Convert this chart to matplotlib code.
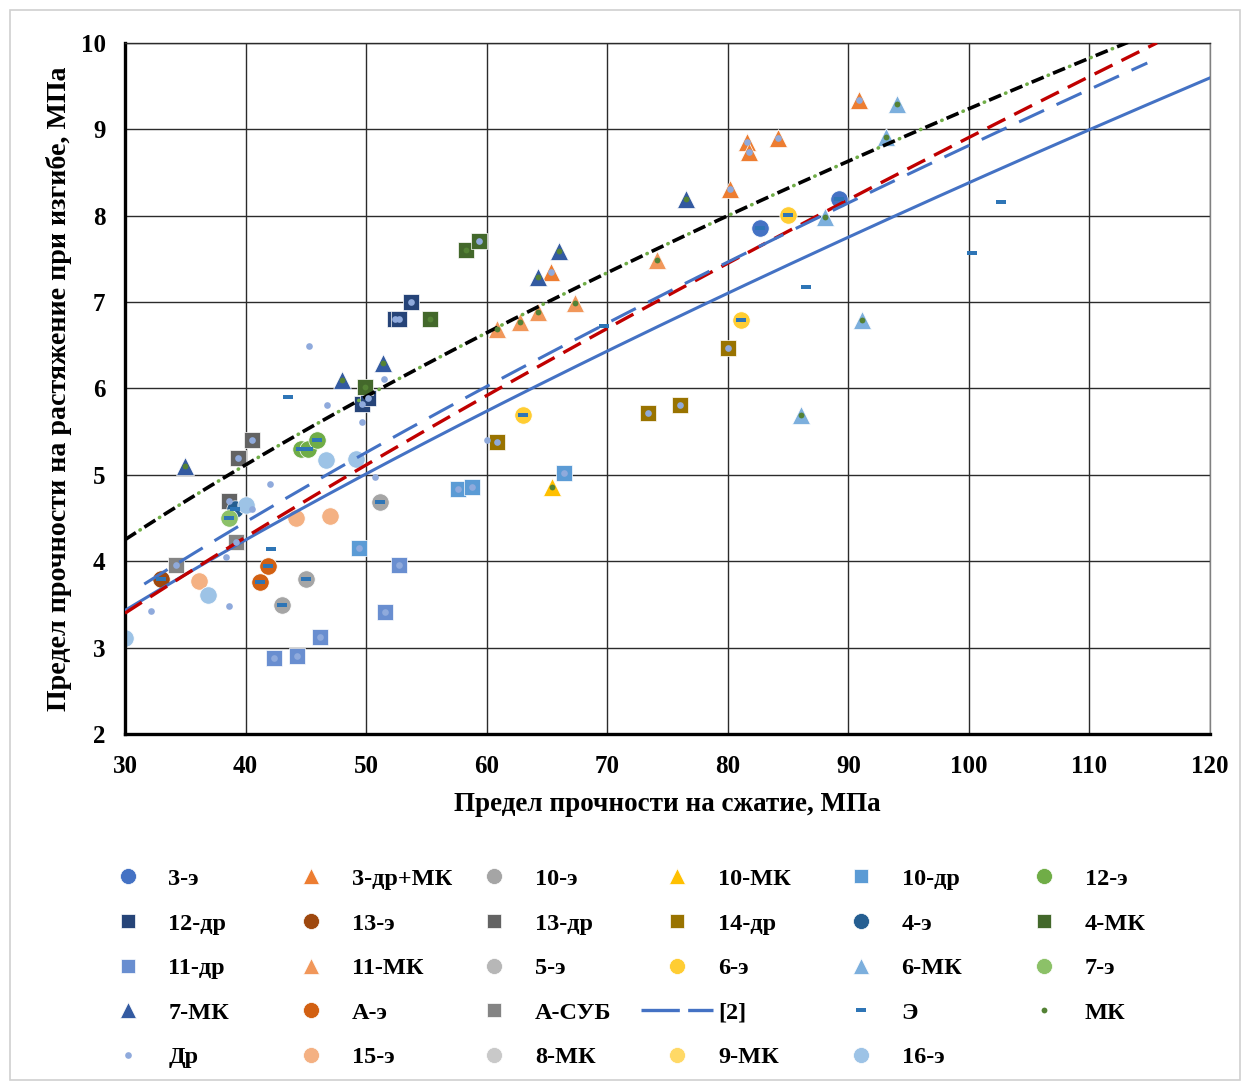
import numpy as np
import matplotlib.pyplot as plt
from matplotlib.lines import Line2D
from matplotlib.patches import Rectangle

plt.rcParams['font.family'] = ['Liberation Serif', 'DejaVu Serif']
plt.rcParams['font.weight'] = 'bold'

# series (x - compressive strength, y - flexural tensile strength)
s3e_x = [82.7, 89.2]
s3e_y = [7.86, 8.19]
s3drmk_x = [65.3, 80.2, 81.6, 81.8, 84.2, 90.9]
s3drmk_y = [7.35, 8.31, 8.85, 8.74, 8.90, 9.34]
s10e_x = [43.0, 45.0, 51.15]
s10e_y = [3.49, 3.79, 4.69]
s10mk_x = [65.4]
s10mk_y = [4.86]
s10dr_x = [49.4, 57.6, 58.8, 66.4]
s10dr_y = [4.15, 4.84, 4.86, 5.02]
s12e_x = [44.6, 45.2, 45.9]
s12e_y = [5.30, 5.30, 5.40]
s12dr_x = [49.7, 50.2, 52.4, 52.7, 53.7]
s12dr_y = [5.82, 5.89, 6.80, 6.80, 7.00]
s13e_x = [33.0]
s13e_y = [3.79]
s13dr_x = [38.6, 39.4, 40.5]
s13dr_y = [4.70, 5.20, 5.40]
s14dr_x = [60.9, 73.4, 76.0, 80.0]
s14dr_y = [5.38, 5.72, 5.81, 6.47]
s4e_x = [39.1]
s4e_y = [4.60]
s4mk_x = [49.9, 55.3, 58.3, 59.4]
s4mk_y = [6.02, 6.80, 7.60, 7.71]
s11dr_x = [42.4, 44.3, 46.2, 51.6, 52.7]
s11dr_y = [2.88, 2.90, 3.12, 3.41, 3.96]
s11mk_x = [60.85, 62.8, 64.3, 67.3, 74.1]
s11mk_y = [6.69, 6.77, 6.89, 6.99, 7.49]
s5e_x, s5e_y = [], []
s6e_x = [63.0, 81.1, 85.0]
s6e_y = [5.69, 6.79, 8.01]
s6mk_x = [86.1, 88.1, 91.1, 93.1, 94.0]
s6mk_y = [5.69, 7.99, 6.79, 8.91, 9.29]
s7e_x = [38.6]
s7e_y = [4.50]
s7mk_x = [35.0, 48.0, 51.4, 64.3, 66.0, 76.5]
s7mk_y = [5.10, 6.10, 6.30, 7.29, 7.59, 8.19]
sAe_x = [41.2, 41.9]
sAe_y = [3.76, 3.94]
sAsub_x = [34.2, 39.2]
sAsub_y = [3.96, 4.22]
s15e_x = [36.1, 44.2, 47.0]
s15e_y = [3.77, 4.50, 4.52]
s8mk_x, s8mk_y = [], []
s9mk_x, s9mk_y = [], []
s16e_x = [30.0, 36.9, 40.0, 46.7, 49.2]
s16e_y = [3.11, 3.61, 4.65, 5.17, 5.18]

# points of the group series (Э, МК, Др) that stand alone
e_extra_x = [43.5, 42.1, 69.7, 86.5, 100.25, 102.7]
e_extra_y = [5.90, 4.14, 6.72, 7.18, 7.57, 8.16]
dr_extra_x = [45.3, 51.5, 46.75, 49.7, 42.0, 40.5, 50.7, 38.4, 32.2, 38.6, 60.0]
dr_extra_y = [6.49, 6.11, 5.81, 5.61, 4.90, 4.60, 4.98, 4.05, 3.42, 3.48, 5.40]

e_x = s3e_x + s10e_x + s12e_x + s13e_x + s4e_x + s6e_x + s7e_x + sAe_x + e_extra_x
e_y = s3e_y + s10e_y + s12e_y + s13e_y + s4e_y + s6e_y + s7e_y + sAe_y + e_extra_y
mk_x = s4mk_x[:3] + s7mk_x + s11mk_x + s10mk_x + s6mk_x
mk_y = s4mk_y[:3] + s7mk_y + s11mk_y + s10mk_y + s6mk_y
dr_x = s3drmk_x + s10dr_x + s12dr_x + s13dr_x + s14dr_x + s11dr_x + sAsub_x + s4mk_x[3:] + dr_extra_x
dr_y = s3drmk_y + s10dr_y + s12dr_y + s13dr_y + s14dr_y + s11dr_y + sAsub_y + s4mk_y[3:] + dr_extra_y

# power trendlines y = a * x**b : (a, b, x_start, x_end)
trend_mk = (0.4738, 0.645, 30, 113.2)
trend_all = (0.2237, 0.80, 30, 115.6)
trend_ref2 = (0.2852, 0.745, 31.6, 114.8)
trend_e = (0.275, 0.742, 30, 120)

series = [
    ('3-э', s3e_x, s3e_y, 'o', '#4472C4'),
    ('3-др+МК', s3drmk_x, s3drmk_y, '^', '#ED7D31'),
    ('10-э', s10e_x, s10e_y, 'o', '#A5A5A5'),
    ('10-МК', s10mk_x, s10mk_y, '^', '#FFC000'),
    ('10-др', s10dr_x, s10dr_y, 's', '#5B9BD5'),
    ('12-э', s12e_x, s12e_y, 'o', '#70AD47'),
    ('12-др', s12dr_x, s12dr_y, 's', '#264478'),
    ('13-э', s13e_x, s13e_y, 'o', '#9E480E'),
    ('13-др', s13dr_x, s13dr_y, 's', '#636363'),
    ('14-др', s14dr_x, s14dr_y, 's', '#997300'),
    ('4-э', s4e_x, s4e_y, 'o', '#255E91'),
    ('4-МК', s4mk_x, s4mk_y, 's', '#43682B'),
    ('11-др', s11dr_x, s11dr_y, 's', '#698ED0'),
    ('11-МК', s11mk_x, s11mk_y, '^', '#F1975A'),
    ('5-э', s5e_x, s5e_y, 'o', '#B7B7B7'),
    ('6-э', s6e_x, s6e_y, 'o', '#FFCD33'),
    ('6-МК', s6mk_x, s6mk_y, '^', '#7CAFDD'),
    ('7-э', s7e_x, s7e_y, 'o', '#8CC168'),
    ('7-МК', s7mk_x, s7mk_y, '^', '#335AA1'),
    ('А-э', sAe_x, sAe_y, 'o', '#D26012'),
    ('А-СУБ', sAsub_x, sAsub_y, 's', '#848484'),
    ('15-э', s15e_x, s15e_y, 'o', '#F4B183'),
    ('8-МК', s8mk_x, s8mk_y, 'o', '#C9C9C9'),
    ('9-МК', s9mk_x, s9mk_y, 'o', '#FFD966'),
    ('16-э', s16e_x, s16e_y, 'o', '#9DC3E6'),
]
msize = {'o': 12.5, 's': 11.5, '^': 12.5}

dash_marker = [(-1, -0.4), (1, -0.4), (1, 0.4), (-1, 0.4), (-1, -0.4)]
E_COLOR, MK_COLOR, DR_COLOR = '#2E75B6', '#548235', '#8FAADC'

fig = plt.figure(figsize=(12.46, 10.82), dpi=100)
ax = fig.add_axes([0.1003, 0.3216, 0.8708, 0.6387])

handles = {}
for name, xs, ys, mk, col in series:
    ax.plot(xs, ys, linestyle='none', marker=mk, ms=msize[mk], color=col,
            mec='white', mew=0.5, zorder=2)
    handles[name] = Line2D([], [], linestyle='none', marker=mk, ms=msize[mk] - 1,
                           color=col, mec='white', mew=0.5)


def power_line(tr, n=200):
    a, b, x0, x1 = tr
    xs = np.linspace(x0, x1, n)
    return xs, a * xs ** b


x, y = power_line(trend_e)
ax.plot(x, y, color='#4472C4', lw=2.2, zorder=3)
x, y = power_line(trend_all)
ax.plot(x, y, color='#C00000', lw=2.4, linestyle=(0, (6, 3)), zorder=3)
x, y = power_line(trend_ref2)
ax.plot(x, y, color='#4472C4', lw=2.2, linestyle=(0, (9, 4.5)), zorder=3)
x, y = power_line(trend_mk)
ax.plot(x, y, color='black', lw=2.6, linestyle=(0, (3.6, 2.8)), zorder=3)
ax.plot(x, y, color='#70AD47', lw=2.6, linestyle=(1.45, (0.1, 6.3)),
        dash_capstyle='round', zorder=3)

ax.plot(e_x, e_y, linestyle='none', marker=dash_marker, ms=6.5, color=E_COLOR, mew=0, zorder=4)
ax.plot(mk_x, mk_y, linestyle='none', marker='o', ms=4.2, color=MK_COLOR, mew=0, zorder=4)
ax.plot(dr_x, dr_y, linestyle='none', marker='o', ms=4.8, color=DR_COLOR, mew=0, zorder=4)

handles['[2]'] = Line2D([], [], color='#4472C4', lw=2.4, linestyle=(0, (11.5, 2.5)))
handles['Э'] = Line2D([], [], linestyle='none', marker=dash_marker, ms=6.5, color=E_COLOR, mew=0)
handles['МК'] = Line2D([], [], linestyle='none', marker='o', ms=4.2, color=MK_COLOR, mew=0)
handles['Др'] = Line2D([], [], linestyle='none', marker='o', ms=4.8, color=DR_COLOR, mew=0)

ax.set_xlim(30, 120)
ax.set_ylim(2, 10)
ax.set_xticks(np.arange(30, 121, 10))
ax.set_yticks(np.arange(2, 11, 1))
ax.grid(True, color='#2b2b2b', lw=1.0)
ax.set_axisbelow(True)
ax.tick_params(length=0, labelsize=18)
ax.tick_params(axis='x', pad=15)
ax.tick_params(axis='y', pad=14)
for lab in ax.get_xticklabels() + ax.get_yticklabels():
    lab.set_fontweight('bold')
ax.spines['left'].set_linewidth(2.4)
ax.spines['bottom'].set_linewidth(2.4)
ax.spines['top'].set_linewidth(1.0)
ax.spines['top'].set_color('#2b2b2b')
ax.spines['right'].set_linewidth(1.0)
ax.spines['right'].set_color('#808080')

ax.set_xlabel('Предел прочности на сжатие, МПа', fontsize=19.5, fontweight='bold', labelpad=10)
ax.set_ylabel('Предел прочности на растяжение при изгибе, МПа', fontsize=20.2,
              fontweight='bold', labelpad=6)

order = ['3-э', '3-др+МК', '10-э', '10-МК', '10-др', '12-э',
         '12-др', '13-э', '13-др', '14-др', '4-э', '4-МК',
         '11-др', '11-МК', '5-э', '6-э', '6-МК', '7-э',
         '7-МК', 'А-э', 'А-СУБ', '[2]', 'Э', 'МК',
         'Др', '15-э', '8-МК', '9-МК', '16-э']
ncol = 6
for j in range(ncol):
    names = order[j::ncol]
    fig.legend([handles[n] for n in names], names, loc='upper left',
               bbox_to_anchor=(0.0735 + j * 0.1471, 0.1978), frameon=False,
               fontsize=17.5, handlelength=2.96, handletextpad=0.2,
               labelspacing=0.93, borderpad=0, borderaxespad=0)

fig.patches.append(Rectangle((0.008, 0.002), 0.987, 0.989, transform=fig.transFigure,
                             fill=False, edgecolor='#d0d0d0', lw=1.2))

fig.savefig('out.png', dpi=100)
